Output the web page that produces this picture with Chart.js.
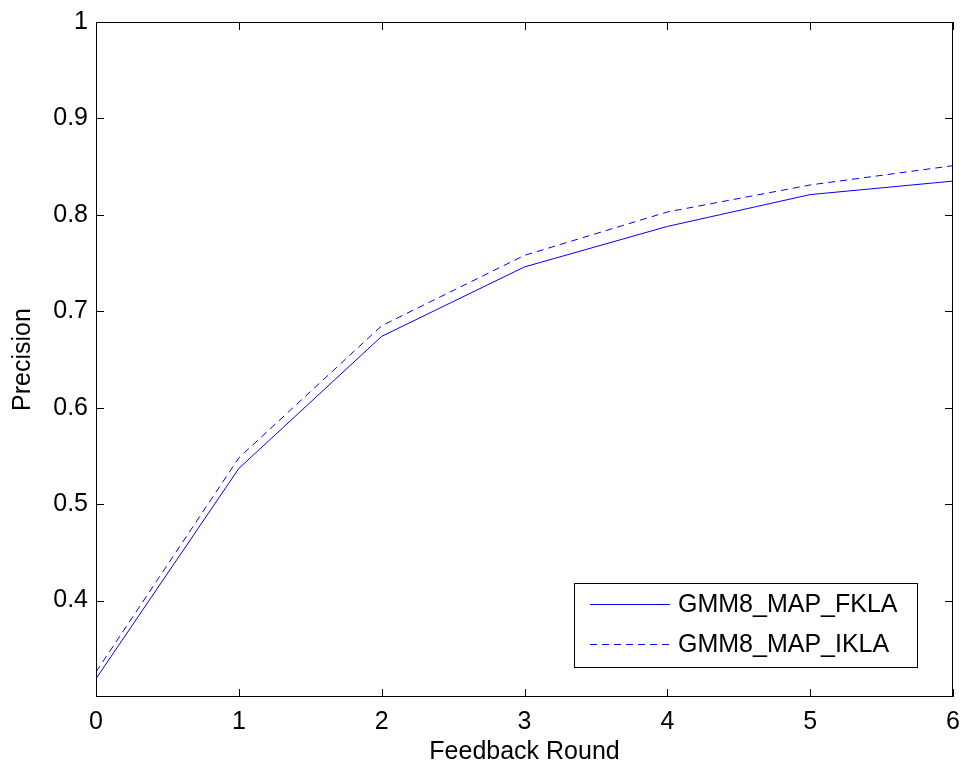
<!DOCTYPE html>
<html>
<head>
<meta charset="utf-8">
<script src="https://cdn.jsdelivr.net/npm/chart.js@4.4.1/dist/chart.umd.min.js"></script>
<style>
  html, body { margin: 0; padding: 0; background: #fff; }
  #wrap { width: 963px; height: 767px; }
</style>
</head>
<body>
<div id="wrap"><canvas id="precChart" width="963" height="767"></canvas></div>
<script>
var rounds = [0, 1, 2, 3, 4, 5, 6];
var fklaPrec = [0.319, 0.537, 0.674, 0.746, 0.788, 0.821, 0.835];
var iklaPrec = [0.326, 0.548, 0.685, 0.758, 0.803, 0.831, 0.851];
var xTickVals = [0, 1, 2, 3, 4, 5, 6];
var yTickVals = [0.4, 0.5, 0.6, 0.7, 0.8, 0.9, 1];
var seriesNames = ['GMM8_MAP_FKLA', 'GMM8_MAP_IKLA'];

var FONT = '"Liberation Sans", Arial, sans-serif';
var FS = 25;

function pts(ys) { return rounds.map(function (x, i) { return { x: x, y: ys[i] }; }); }

// MATLAB-ish box with inward ticks + legend inside the axes
var matlabFrame = {
  id: 'matlabFrame',
  afterDraw: function (chart) {
    var ctx = chart.ctx, a = chart.chartArea;
    var xs = chart.scales.x, ys = chart.scales.y;
    ctx.save();
    ctx.strokeStyle = '#000';
    ctx.lineWidth = 1;
    ctx.strokeRect(a.left + 0.5, a.top + 0.5, a.right - a.left - 1, a.bottom - a.top - 1);
    ctx.beginPath();
    yTickVals.forEach(function (v) {
      var py = Math.round(ys.getPixelForValue(v)) + 0.5;
      ctx.moveTo(a.left, py); ctx.lineTo(a.left + 8, py);
      ctx.moveTo(a.right, py); ctx.lineTo(a.right - 8, py);
    });
    xTickVals.forEach(function (v) {
      var px = Math.round(xs.getPixelForValue(v)) + 0.5;
      ctx.moveTo(px, a.bottom); ctx.lineTo(px, a.bottom - 8);
      ctx.moveTo(px, a.top); ctx.lineTo(px, a.top + 8);
    });
    ctx.stroke();

    // legend
    var bx = a.right - 379, by = a.bottom - 114, bw = 343, bh = 84;
    ctx.fillStyle = '#fff';
    ctx.fillRect(bx, by, bw, bh);
    ctx.strokeRect(bx + 0.5, by + 0.5, bw, bh);
    ctx.font = FS + 'px ' + FONT;
    ctx.textBaseline = 'middle';
    chart.data.datasets.forEach(function (ds, i) {
      var ry = by + 21 + i * 40;
      ctx.strokeStyle = ds.borderColor;
      ctx.setLineDash(ds.borderDash || []);
      ctx.beginPath();
      ctx.moveTo(bx + 16, ry + 0.5); ctx.lineTo(bx + 96, ry + 0.5);
      ctx.stroke();
      ctx.setLineDash([]);
      ctx.fillStyle = '#000';
      ctx.fillText(ds.label, bx + 104, ry + 1);
    });
    ctx.restore();
  }
};

new Chart(document.getElementById('precChart').getContext('2d'), {
  type: 'line',
  data: {
    datasets: [
      { label: seriesNames[0], data: pts(fklaPrec), borderColor: '#0000ff', borderWidth: 1, pointRadius: 0, fill: false, tension: 0 },
      { label: seriesNames[1], data: pts(iklaPrec), borderColor: '#0000ff', borderWidth: 1, borderDash: [7, 5], pointRadius: 0, fill: false, tension: 0 }
    ]
  },
  options: {
    responsive: false,
    animation: false,
    layout: { padding: { left: 0, top: 22, right: 10, bottom: 0 } },
    plugins: { legend: { display: false }, tooltip: { enabled: false } },
    scales: {
      x: {
        type: 'linear', min: 0, max: 6,
        afterBuildTicks: function (s) { s.ticks = xTickVals.map(function (v) { return { value: v }; }); },
        afterFit: function (s) { s.height = 70; s.paddingLeft = 0; s.paddingRight = 0; },
        grid: { display: false, drawTicks: false },
        border: { display: false },
        ticks: { color: '#000', padding: 10, maxRotation: 0, font: { family: FONT, size: FS } },
        title: { display: true, text: 'Feedback Round', color: '#000', padding: { top: 0, bottom: 0 }, font: { family: FONT, size: FS } }
      },
      y: {
        type: 'linear', min: 0.3, max: 1,
        afterBuildTicks: function (s) { s.ticks = yTickVals.map(function (v) { return { value: v }; }); },
        afterFit: function (s) { s.width = 96; s.paddingTop = 0; s.paddingBottom = 0; },
        grid: { display: false, drawTicks: false },
        border: { display: false },
        ticks: { color: '#000', padding: 8, font: { family: FONT, size: FS },
          callback: function (v) { return String(+v.toFixed(1)); } },
        title: { display: true, text: 'Precision', color: '#000', padding: { top: 8, bottom: 0 }, font: { family: FONT, size: FS } }
      }
    }
  },
  plugins: [matlabFrame]
});
</script>
</body>
</html>
